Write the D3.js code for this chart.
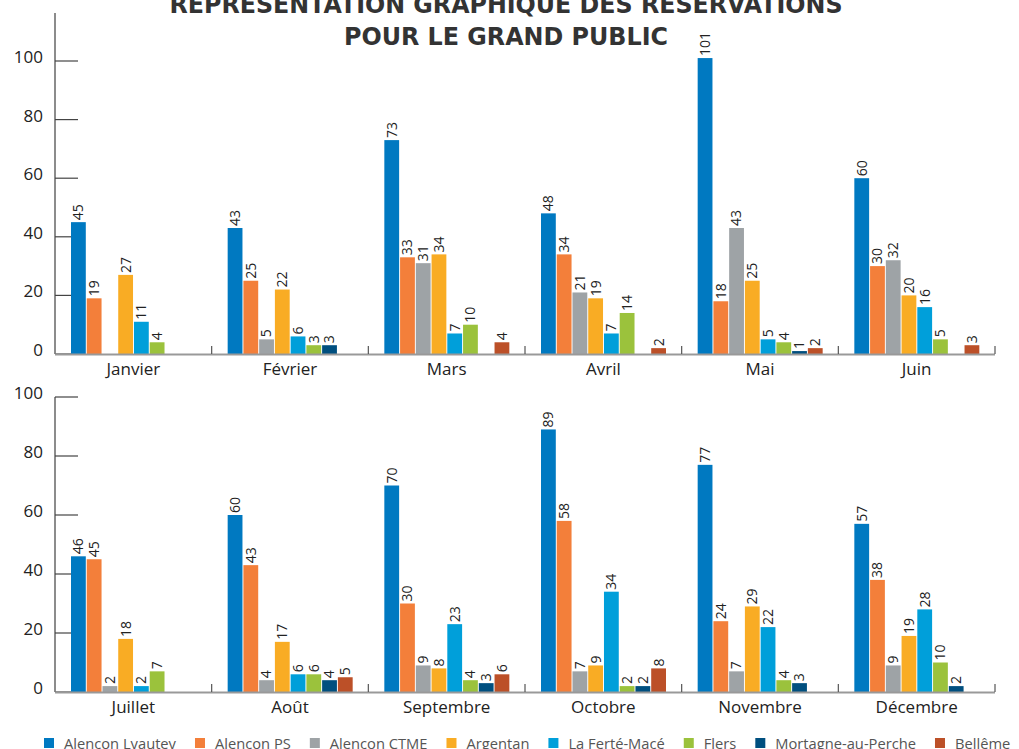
<!DOCTYPE html>
<html>
<head>
<meta charset="utf-8">
<script src="https://cdn.jsdelivr.net/npm/d3@7"></script>
<style>
  body { margin: 0; background: #fff; }
  svg { display: block; }
</style>
</head>
<body>
<svg id="chart" width="1019" height="749"></svg>
<script>
// months of each panel
var monthsTop = ['Janvier', 'Février', 'Mars', 'Avril', 'Mai', 'Juin'];
var monthsBottom = ['Juillet', 'Août', 'Septembre', 'Octobre', 'Novembre', 'Décembre'];

// sites (series) and their colours
var sites = ['Alençon Lyautey', 'Alençon PS', 'Alençon CTME', 'Argentan', 'La Ferté-Macé', 'Flers', 'Mortagne-au-Perche', 'Bellême'];
var colors = ['#0079c1', '#f37f3a', '#9ea3a6', '#f9ac24', '#009fda', '#9bc23c', '#004f7f', '#bc5028'];

// one array per site, Janvier -> Décembre
var lyautey  = [45, 43, 73, 48, 101, 60, 46, 60, 70, 89, 77, 57];
var alencPS  = [19, 25, 33, 34, 18, 30, 45, 43, 30, 58, 24, 38];
var ctme     = [0, 5, 31, 21, 43, 32, 2, 4, 9, 7, 7, 9];
var argentan = [27, 22, 34, 19, 25, 20, 18, 17, 8, 9, 29, 19];
var ferte    = [11, 6, 7, 7, 5, 16, 2, 6, 23, 34, 22, 28];
var flers    = [4, 3, 10, 14, 4, 5, 7, 6, 4, 2, 4, 10];
var mortagne = [0, 3, 0, 0, 1, 0, 0, 4, 3, 2, 3, 2];
var belleme  = [0, 0, 4, 2, 2, 3, 0, 5, 6, 8, 0, 0];

var yTicks = [0, 20, 40, 60, 80, 100];

var series = [lyautey, alencPS, ctme, argentan, ferte, flers, mortagne, belleme];

var svg = d3.select('#chart');

// title (cut at the top edge, as in the original)
var title = svg.append('g').attr('font-family', 'DejaVu Sans').attr('font-weight', 'bold')
  .attr('fill', '#333').attr('text-anchor', 'middle');
title.append('text').attr('x', 506).attr('y', 13).attr('font-size', 25)
  .attr('textLength', 673).attr('lengthAdjust', 'spacingAndGlyphs')
  .text('REPRÉSENTATION GRAPHIQUE DES RÉSERVATIONS');
title.append('text').attr('x', 506).attr('y', 45).attr('font-size', 25)
  .attr('textLength', 324).attr('lengthAdjust', 'spacingAndGlyphs')
  .text('POUR LE GRAND PUBLIC');

function panel(months, offset, y0, y100, yTop) {
  var g = svg.append('g');
  var y = d3.scaleLinear().domain([0, 100]).range([y0, y100]);
  var x = d3.scaleBand().domain(months).range([55, 995]).padding(0);
  var xi = d3.scaleBand().domain(sites).range([16, 141]).paddingInner(0.06);

  // y axis line
  g.append('line').attr('x1', 55).attr('x2', 55).attr('y1', yTop).attr('y2', y0)
    .attr('stroke', '#666').attr('stroke-width', 1.5);

  // ticks + labels
  var ty = g.selectAll('.ty').data(yTicks).enter().append('g')
    .attr('transform', function (d) { return 'translate(0,' + y(d) + ')'; });
  ty.append('line').attr('x1', 55).attr('x2', 78).attr('stroke', '#444').attr('stroke-width', 1.2);
  ty.append('text').attr('x', 43).attr('y', 2).attr('text-anchor', 'end')
    .attr('font-family', 'Open Sans').attr('font-size', 17).attr('fill', '#222')
    .text(function (d) { return d; });

  // groups of bars
  var groups = g.selectAll('.grp').data(months).enter().append('g')
    .attr('transform', function (d) { return 'translate(' + x(d) + ',0)'; });

  groups.each(function (m, mi) {
    var idx = mi + offset;
    var vals = sites.map(function (s, si) { return { site: s, color: colors[si], v: series[si][idx] }; });
    var gg = d3.select(this);
    gg.selectAll('rect').data(vals).enter().append('rect')
      .attr('x', function (d) { return xi(d.site); })
      .attr('width', xi.bandwidth())
      .attr('y', function (d) { return y(d.v); })
      .attr('height', function (d) { return y0 - y(d.v); })
      .attr('fill', function (d) { return d.color; });
    gg.selectAll('text.val').data(vals.filter(function (d) { return d.v > 0; })).enter().append('text')
      .attr('class', 'val')
      .attr('transform', function (d) {
        return 'translate(' + (xi(d.site) + xi.bandwidth() / 2) + ',' + (y(d.v) - 2) + ') rotate(-90)';
      })
      .attr('dy', '0.35em')
      .attr('font-family', 'Open Sans').attr('font-size', 14).attr('fill', '#222')
      .text(function (d) { return d.v; });
  });

  // baseline
  g.append('line').attr('x1', 55).attr('x2', 995).attr('y1', y0 + 0.5).attr('y2', y0 + 0.5)
    .attr('stroke', '#999').attr('stroke-width', 2);
  // group separators
  var seps = months.map(function (m) { return x(m) + x.bandwidth(); });
  g.selectAll('.sep').data(seps).enter().append('line')
    .attr('x1', function (d) { return d; }).attr('x2', function (d) { return d; })
    .attr('y1', y0 - 8).attr('y2', y0)
    .attr('stroke', '#555').attr('stroke-width', 1.2);

  // month labels
  g.selectAll('.mlab').data(months).enter().append('text')
    .attr('x', function (d) { return x(d) + x.bandwidth() / 2; })
    .attr('y', y0 + 21).attr('text-anchor', 'middle')
    .attr('font-family', 'Open Sans').attr('font-size', 17).attr('fill', '#222')
    .text(function (d) { return d; });
}

panel(monthsTop, 0, 354, 61, 13);
panel(monthsBottom, 6, 692, 397, 397);

// legend (cut at the bottom edge, as in the original)
var leg = svg.append('g').attr('font-family', 'Open Sans').attr('font-size', 14.7).attr('fill', '#555');
var lx = 44;
sites.forEach(function (s, i) {
  leg.append('rect').attr('x', lx).attr('y', 738).attr('width', 10).attr('height', 10).attr('fill', colors[i]);
  var t = leg.append('text').attr('x', lx + 20).attr('y', 749).text(s);
  lx += 20 + t.node().getComputedTextLength() + 19;
});
</script>
</body>
</html>
